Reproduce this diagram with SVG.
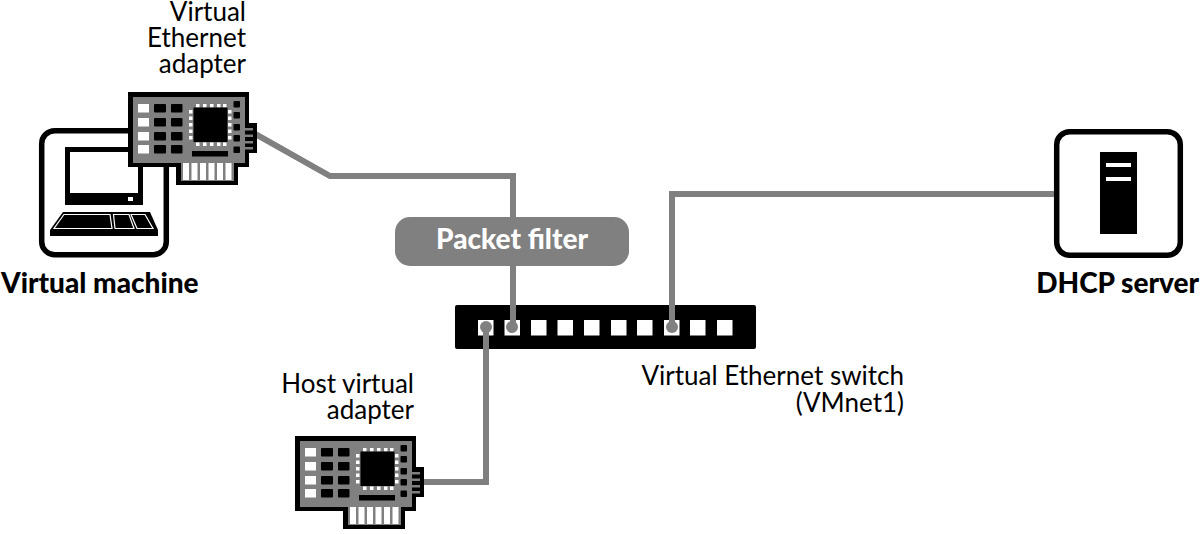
<svg xmlns="http://www.w3.org/2000/svg" width="1203" height="534" viewBox="0 0 1203 534">
<style>
text{font-family:Lato,"Open Sans","Liberation Sans",sans-serif;fill:#000}
.r{font-size:26px;text-anchor:end}
.b{font-size:28px;font-weight:900}
.k{fill:#000}.w{fill:#fff}.g{fill:#808080}
.box{fill:#fff;stroke:#000;stroke-width:5.5}
.con{fill:none;stroke:#808080;stroke-width:6}
.kb{fill:#000;stroke:#fff;stroke-width:1.2}
</style>
<defs>
<g id="card">
<rect class="k" x="128" y="92" width="121" height="75"/>
<rect class="k" x="176" y="160" width="62" height="25"/>
<rect class="k" x="245" y="123" width="12" height="30"/>
<rect class="g" x="133" y="97" width="112" height="66"/>
<rect class="g" x="181" y="160" width="53" height="21"/>
<rect class="g" x="245" y="128" width="8" height="2.5"/><rect class="g" x="245" y="134.500" width="8" height="2.500"/><rect class="g" x="245" y="141" width="8" height="2.500"/><rect class="g" x="245" y="147" width="8" height="2.500"/>
<g class="w"><rect x="138" y="104" width="11" height="8.500"/><rect x="138" y="118" width="11" height="8.500"/><rect x="138" y="132" width="11" height="8.500"/><rect x="138" y="145" width="11" height="8.500"/>
<rect x="183" y="163" width="6" height="17"/><rect x="191.500" y="163" width="6" height="17"/><rect x="200" y="163" width="6" height="17"/><rect x="208.500" y="163" width="6" height="17"/><rect x="217" y="163" width="6" height="17"/><rect x="225.500" y="163" width="6" height="17"/>
<rect x="196" y="104" width="3.500" height="3.500"/><rect x="203" y="104" width="3.500" height="3.500"/><rect x="210" y="104" width="3.500" height="3.500"/><rect x="217" y="104" width="3.500" height="3.500"/><rect x="223" y="104" width="3.500" height="3.500"/>
<rect x="196" y="142.500" width="3.500" height="3.500"/><rect x="203" y="142.500" width="3.500" height="3.500"/><rect x="210" y="142.500" width="3.500" height="3.500"/><rect x="217" y="142.500" width="3.500" height="3.500"/><rect x="223" y="142.500" width="3.500" height="3.500"/>
<rect x="189" y="110" width="3.500" height="3.500"/><rect x="189" y="116.500" width="3.500" height="3.500"/><rect x="189" y="123" width="3.500" height="3.500"/><rect x="189" y="129.500" width="3.500" height="3.500"/><rect x="189" y="136" width="3.500" height="3.500"/>
<rect x="228" y="110" width="3.500" height="3.500"/><rect x="228" y="116.500" width="3.500" height="3.500"/><rect x="228" y="123" width="3.500" height="3.500"/><rect x="228" y="129.500" width="3.500" height="3.500"/><rect x="228" y="136" width="3.500" height="3.500"/></g>
<g class="k"><rect x="154" y="104" width="12" height="8.500" rx="1"/><rect x="154" y="118" width="12" height="8.500" rx="1"/><rect x="154" y="132" width="12" height="8.500" rx="1"/><rect x="154" y="145" width="12" height="8.500" rx="1"/>
<rect x="171" y="104" width="11.500" height="8.500" rx="1"/><rect x="171" y="118" width="11.500" height="8.500" rx="1"/><rect x="171" y="132" width="11.500" height="8.500" rx="1"/><rect x="171" y="145" width="11.500" height="8.500" rx="1"/>
<rect x="193.500" y="107.500" width="34" height="34.500"/>
<rect x="192" y="151" width="36" height="5.500"/>
<rect x="233.500" y="101" width="6.500" height="6.500" rx="1"/><rect x="233.500" y="112" width="6.500" height="6.500" rx="1"/><rect x="233.500" y="124" width="6.500" height="6.500" rx="1"/><rect x="233.500" y="135" width="6.500" height="6.500" rx="1"/><rect x="233.500" y="146.500" width="6.500" height="6.500" rx="1"/></g>
</g>
</defs>
<g id="switch">
<rect class="k" x="455" y="305" width="301" height="44" rx="2"/>
<g class="w"><rect x="478" y="320" width="15.500" height="15.500"/><rect x="504.500" y="320" width="15.500" height="15.500"/><rect x="531" y="320" width="15.500" height="15.500"/><rect x="557.500" y="320" width="15.500" height="15.500"/><rect x="584" y="320" width="15.500" height="15.500"/><rect x="611" y="320" width="15.500" height="15.500"/><rect x="637" y="320" width="15.500" height="15.500"/><rect x="664" y="320" width="15.500" height="15.500"/><rect x="690" y="320" width="15.500" height="15.500"/><rect x="717" y="320" width="15.500" height="15.500"/></g>
<g class="g"><circle cx="486" cy="327" r="6"/><circle cx="512" cy="327" r="6"/><circle cx="672" cy="327" r="6"/></g>
<text class="r" x="904" y="385">Virtual Ethernet switch</text>
<text class="r" x="904" y="412">(VMnet1)</text>
</g>
<g id="connectors">
<path class="con" d="M250 131L330 176H513V326"/>
<path class="con" d="M672 326V194H1054"/>
<path class="con" d="M486 326V482H424"/>
</g>
<g id="virtual-machine">
<rect class="box" x="41.700" y="130.700" width="124.600" height="124" rx="13"/>
<rect class="k" x="65" y="147" width="78" height="58"/>
<rect class="w" x="70" y="152" width="68" height="41"/>
<rect class="w" x="128" y="197" width="5" height="4"/>
<path class="k" d="M63 212H150L158 230V236H50V230Z"/>
<path class="kb" d="M64 214.500H110L112 228.500H54Z"/>
<path class="kb" d="M113.500 214.500H129L134 228.500H115Z"/>
<path class="kb" d="M131 214.500H145L153 228.500H137Z"/>
<text class="b" x="1" y="293">Virtual machine</text>
</g>
<g id="virtual-ethernet-adapter">
<use href="#card"/>
<text class="r" x="246" y="21">Virtual</text>
<text class="r" x="246" y="47">Ethernet</text>
<text class="r" x="246" y="73">adapter</text>
</g>
<g id="packet-filter">
<rect class="g" x="395" y="217" width="234" height="49" rx="15"/>
<text x="512" y="249" text-anchor="middle" style="font-size:28px;font-weight:900;fill:#fff">Packet filter</text>
</g>
<g id="host-virtual-adapter">
<use href="#card" transform="translate(167 344)"/>
<text class="r" x="414" y="393">Host virtual</text>
<text class="r" x="414" y="419">adapter</text>
</g>
<g id="dhcp-server">
<rect class="box" x="1056.700" y="131.700" width="123.600" height="123.600" rx="13"/>
<rect class="k" x="1100" y="152" width="37" height="82"/>
<rect class="w" x="1106" y="163" width="25" height="4"/>
<rect class="w" x="1106" y="177" width="25" height="4"/>
<text class="b" x="1199" y="293" text-anchor="end">DHCP server</text>
</g>
</svg>
